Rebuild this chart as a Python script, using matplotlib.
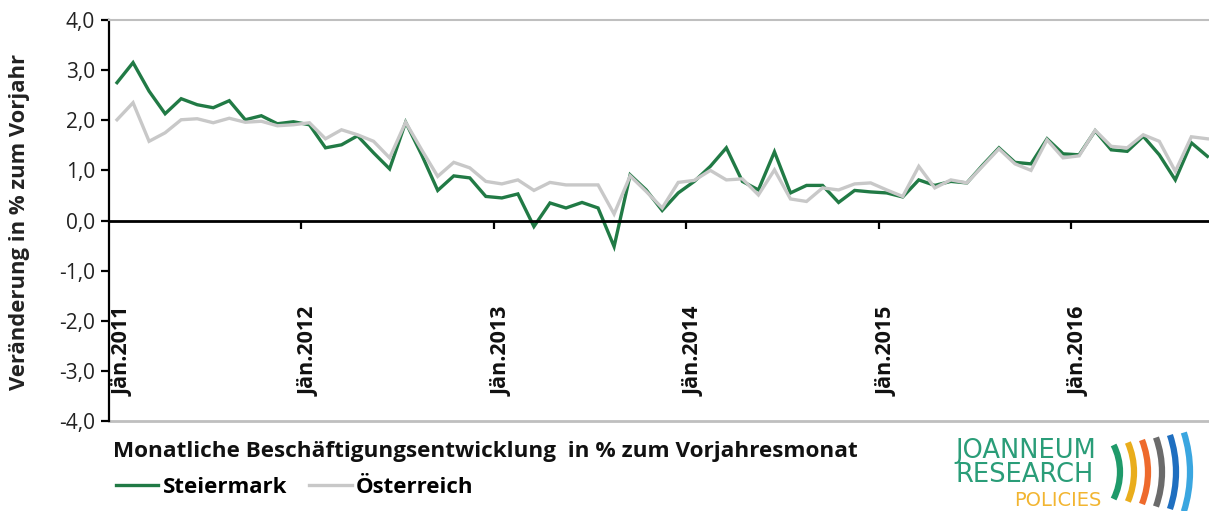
import numpy as np
import matplotlib
matplotlib.use('Agg')
import matplotlib.pyplot as plt
from matplotlib.patches import Arc
from matplotlib.transforms import offset_copy

plt.rcParams['font.family'] = ['Open Sans', 'DejaVu Sans']

# Daten: Veränderung zum Vorjahresmonat in %, Jän.2011 - Sep.2016
steiermark = [2.75, 3.15, 2.58, 2.13, 2.43, 2.31, 2.25, 2.39, 2.01, 2.09, 1.93, 1.97,
              1.91, 1.45, 1.51, 1.69, 1.35, 1.03, 1.96, 1.31, 0.60, 0.89, 0.85, 0.48,
              0.45, 0.53, -0.12, 0.35, 0.25, 0.36, 0.25, -0.52, 0.91, 0.61, 0.20, 0.55,
              0.78, 1.08, 1.45, 0.78, 0.61, 1.37, 0.55, 0.70, 0.70, 0.36, 0.60, 0.57,
              0.55, 0.47, 0.81, 0.70, 0.78, 0.75, 1.11, 1.45, 1.16, 1.13, 1.63, 1.33,
              1.31, 1.79, 1.41, 1.38, 1.68, 1.31, 0.81, 1.55, 1.28]
oesterreich = [2.01, 2.35, 1.58, 1.75, 2.01, 2.03, 1.95, 2.04, 1.96, 1.98, 1.89, 1.91,
               1.95, 1.63, 1.81, 1.71, 1.58, 1.25, 1.96, 1.41, 0.88, 1.16, 1.05, 0.78,
               0.73, 0.81, 0.60, 0.76, 0.71, 0.71, 0.71, 0.13, 0.89, 0.58, 0.25, 0.76,
               0.80, 1.00, 0.81, 0.83, 0.51, 1.01, 0.43, 0.38, 0.65, 0.61, 0.73, 0.75,
               0.61, 0.48, 1.08, 0.65, 0.81, 0.75, 1.09, 1.43, 1.13, 1.00, 1.61, 1.25,
               1.29, 1.80, 1.48, 1.45, 1.71, 1.58, 0.98, 1.67, 1.63]
jahre = [2011, 2012, 2013, 2014, 2015, 2016]
y_ticks = [-4, -3, -2, -1, 0, 1, 2, 3, 4]

W, H = 1209, 511
fig = plt.figure(figsize=(W / 100, H / 100), dpi=100)
ax = fig.add_axes([109 / W, (H - 421) / H, 1100 / W, 401 / H])

x = np.arange(len(steiermark))
ax.plot(x, steiermark, color='#217a45', lw=2.4, label='Steiermark', solid_joinstyle='miter')
ax.plot(x, oesterreich, color='#c8c8c8', lw=2.4, label='Österreich', solid_joinstyle='miter')

ax.set_xlim(-0.5, 68.1)
ax.set_ylim(-4, 4)

# Achsen
ax.spines['bottom'].set_position(('data', 0))
ax.spines['bottom'].set_linewidth(2)
ax.spines['left'].set_linewidth(1.6)
ax.spines['top'].set_color('#bfbfbf')
ax.spines['top'].set_linewidth(1.5)
ax.spines['right'].set_visible(False)
ax.axhline(-4, color='#bfbfbf', lw=2, clip_on=False)

ax.set_xticks([12 * i - 0.5 for i in range(1, 6)])
ax.set_xticklabels([])
ax.tick_params(axis='x', direction='out', length=6, width=1.6)
ax.set_yticks(y_ticks)
ax.set_yticklabels([('%.1f' % v).replace('.', ',') for v in y_ticks])
ax.tick_params(axis='y', direction='out', length=6, width=1.6, labelsize=15,
               labelcolor='#222222', pad=4)

# Jahresbeschriftung (erste etwas nach rechts, weg von der Achse)
for i, j in enumerate(jahre):
    tr = offset_copy(ax.transData, fig=fig, x=6 if i == 0 else 0, y=0, units='dots')
    ax.text(12 * i, -3.5, 'Jän.%d' % j, rotation=90, ha='center', va='bottom',
            fontsize=15.5, fontweight='bold', color='#111111', transform=tr)

fig.text(20 / W, 1 - 222 / H, 'Veränderung in % zum Vorjahr', rotation=90,
         ha='center', va='center', fontsize=15.8, fontweight='bold', color='#222222')

fig.text(113 / W, 1 - 451 / H, 'Monatliche Beschäftigungsentwicklung  in % zum Vorjahresmonat',
         ha='left', va='center', fontsize=16.2, fontweight='bold', color='#111111')

leg = fig.legend(loc='center left', bbox_to_anchor=(116 / W, 1 - 487 / H), ncol=2,
                 frameon=False, handlelength=1.9, handletextpad=0.2, columnspacing=1.0,
                 borderaxespad=0, borderpad=0,
                 prop={'size': 16, 'weight': 'bold'})

# Logo JOANNEUM RESEARCH
fig.text(955 / W, 1 - 463 / H, 'JOANNEUM\nRESEARCH', color='#2a9d78', fontsize=18.5,
         ha='left', va='center', family='DejaVu Sans', linespacing=0.88)
fig.text(1101 / W, 1 - 500 / H, 'POLICIES', color='#f2b531', fontsize=14,
         ha='right', va='center', family='DejaVu Sans')

lax = fig.add_axes([1100 / W, 0, 109 / W, 80 / H])
lax.set_xlim(1100, 1209)
lax.set_ylim(0, 80)
lax.axis('off')
farben = ['#1f9a6a', '#e9ad1c', '#ee6a2c', '#6b6b6b', '#1f6fc0', '#3aa6e0']
for k, c in enumerate(farben):
    r = 60 + 14 * k
    half = np.degrees(np.arcsin((27 + 2.5 * k) / r))
    lax.add_patch(Arc((1060, 39), 2 * r, 2 * r, theta1=-half, theta2=half,
                      color=c, lw=4.5))

fig.savefig('out.png', dpi=100)
